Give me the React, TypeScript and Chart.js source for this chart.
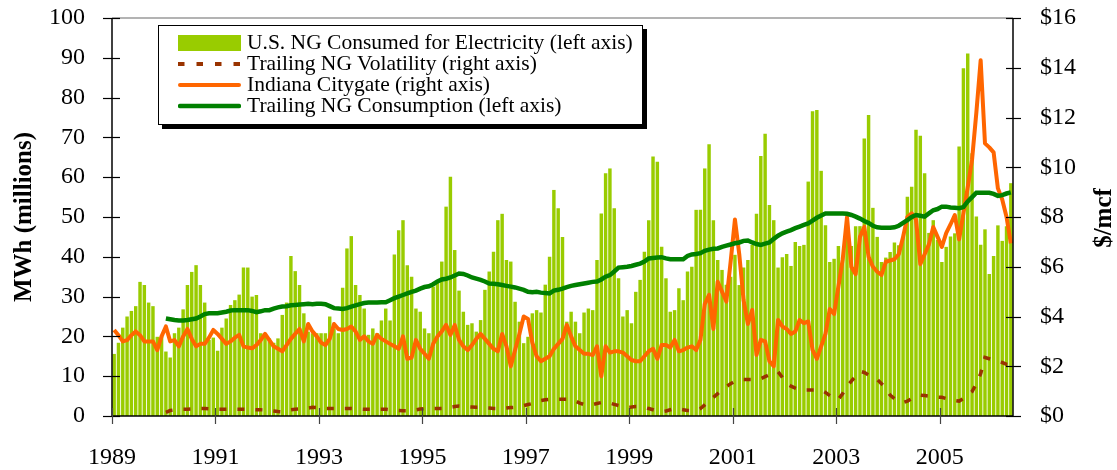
import React, { useEffect, useRef } from "react";
import { Chart, registerables } from "chart.js";

Chart.register(...registerables);

const START_YEAR = 1989;
const MONTH_COUNT = 209;
const TRAILING_START = 12;
const xTickYears = [1989, 1991, 1993, 1995, 1997, 1999, 2001, 2003, 2005];

const legendLabels = [
  "U.S. NG Consumed for Electricity (left axis)",
  "Trailing NG Volatility (right axis)",
  "Indiana Citygate (right axis)",
  "Trailing NG Consumption (left axis)",
];

// U.S. NG consumed for electricity, MWh (millions), monthly Jan 1989 - May 2006
const ngConsumed = [
  15.6, 18.4, 22.2, 25.0, 26.4, 27.6, 33.7, 32.9, 28.5, 27.6, 19.9, 20.0,
  16.2, 14.7, 20.8, 22.2, 26.8, 32.9, 36.2, 37.9, 32.9, 28.5, 19.1, 19.7,
  16.4, 22.2, 24.5, 27.9, 29.1, 30.5, 37.3, 37.3, 30.0, 30.4, 20.8, 20.4,
  19.5, 18.4, 19.5, 25.4, 28.5, 40.2, 36.4, 32.9, 25.8, 21.2, 20.8, 20.8,
  20.8, 20.8, 25.0, 22.0, 20.8, 32.2, 42.1, 45.2, 32.9, 30.4, 27.0, 20.4,
  22.0, 20.8, 24.0, 27.0, 24.0, 40.6, 46.7, 49.2, 37.9, 35.0, 27.0, 26.2,
  22.0, 20.8, 32.5, 34.2, 38.8, 52.6, 60.1, 41.7, 31.5, 26.2, 22.9, 23.3,
  21.2, 24.1, 31.7, 36.3, 41.3, 49.2, 50.8, 39.2, 38.8, 28.7, 23.7, 18.3,
  19.9, 25.8, 26.6, 26.0, 33.0, 40.0, 56.8, 52.2, 45.0, 23.7, 26.2, 23.7,
  20.8, 26.0, 27.0, 26.6, 39.2, 50.9, 61.0, 62.2, 52.2, 34.6, 25.0, 26.6,
  23.3, 31.2, 34.2, 41.3, 49.2, 65.2, 63.9, 42.5, 34.6, 26.2, 26.6, 32.1,
  29.1, 36.3, 37.5, 51.8, 51.8, 62.2, 68.3, 49.2, 39.2, 36.7, 33.0, 35.0,
  40.5, 32.9, 37.3, 39.2, 43.0, 50.8, 65.3, 70.9, 53.0, 49.2, 37.3, 39.9,
  40.7, 37.7, 43.7, 42.7, 43.0, 58.9, 76.6, 76.9, 61.6, 47.9, 38.7, 39.5,
  42.7, 40.0, 49.9, 42.7, 47.7, 47.7, 69.7, 75.6, 52.3, 45.0, 38.7, 39.8,
  41.2, 43.6, 42.9, 45.2, 55.1, 57.6, 71.9, 70.4, 61.0, 46.0, 49.2, 44.2,
  38.7, 42.5, 45.1, 45.9, 67.7, 87.4, 91.1, 66.0, 50.1, 43.0, 46.9, 35.7,
  40.2, 47.9, 44.0, 47.7, 58.5,
];

// Indiana citygate price, $/mcf, monthly Jan 1989 - May 2006
const citygate = [
  3.46, 3.25, 3.0, 3.05, 3.25, 3.4, 3.25, 3.0, 3.0, 3.0, 2.65, 3.2,
  3.6, 3.0, 3.05, 2.8, 3.2, 3.5, 3.1, 2.8, 2.9, 2.9, 3.15, 3.46,
  3.3, 3.1, 2.9, 3.0, 3.15, 3.26, 2.8, 2.75, 2.72, 2.85, 3.05, 3.3,
  3.05, 2.8, 2.7, 2.6, 2.85, 3.1, 3.3, 3.5, 3.0, 3.7, 3.4, 3.2,
  2.95, 2.85, 3.1, 3.7, 3.5, 3.46, 3.5, 3.6, 3.4, 3.06, 3.2, 3.0,
  2.9, 3.26, 3.1, 3.0, 2.9, 2.8, 2.7, 3.2, 2.3, 2.35, 3.06, 2.7,
  2.5, 2.3, 2.9, 3.2, 3.4, 3.66, 3.26, 3.66, 3.06, 2.8, 2.65, 2.85,
  3.1, 3.3, 3.1, 2.9, 2.7, 2.6, 3.3, 2.8, 2.0, 2.65, 3.3, 4.0,
  3.9, 2.95, 2.4, 2.2, 2.3, 2.4, 2.7, 2.9, 3.1, 3.66, 3.2, 2.8,
  2.65, 2.5, 2.5, 2.45, 2.8, 1.6, 2.8, 2.55, 2.6, 2.6, 2.55, 2.4,
  2.25, 2.2, 2.2, 2.4, 2.6, 2.7, 2.3, 2.85, 2.85, 2.75, 3.06, 2.6,
  2.65, 2.75, 2.8, 2.65, 3.06, 4.5, 4.87, 3.5, 5.4, 5.0, 4.6, 6.2,
  7.9, 6.5, 4.66, 3.7, 4.26, 2.45, 3.06, 3.0, 2.2, 2.0, 3.86, 3.6,
  3.5, 3.3, 3.4, 3.86, 3.73, 3.8, 2.66, 2.3, 2.8, 3.3, 4.3, 4.1,
  5.2, 6.3, 8.0, 6.0, 5.7, 7.2, 7.6, 6.4, 6.0, 5.8, 5.67, 6.2,
  6.25, 6.3, 6.5, 7.2, 8.0, 8.15, 7.9, 6.1, 6.5, 6.9, 7.6, 7.2,
  6.8, 7.35, 7.7, 8.08, 7.1, 8.15, 9.2, 10.3, 12.2, 14.3, 10.96, 10.8,
  10.6, 9.15, 8.7, 8.0, 6.94,
];

// Trailing NG consumption, MWh (millions), monthly Jan 1990 - May 2006
const trailingConsumption = [
  24.5, 24.3, 24.1, 24.0, 24.0, 24.1, 24.3, 24.5, 25.0, 25.6, 25.8, 25.8,
  25.8, 26.0, 26.2, 26.5, 26.6, 26.6, 26.6, 26.6, 26.4, 26.1, 26.3, 26.6,
  26.6, 27.0, 27.3, 27.5, 27.6, 27.8, 27.9, 28.0, 28.1, 28.2, 28.1, 28.2,
  28.2, 28.1, 27.6, 27.1, 27.0, 26.9, 27.1, 27.5, 27.8, 28.1, 28.4, 28.5,
  28.5, 28.5, 28.6, 28.6, 29.1, 29.6, 30.0, 30.4, 30.8, 31.2, 31.5, 32.0,
  32.4, 32.6, 33.1, 33.8, 34.3, 34.5, 34.8, 35.3, 35.8, 35.7, 35.3, 34.8,
  34.5, 34.2, 33.8, 33.3, 33.2, 33.1, 32.9, 32.7, 32.5, 32.3, 32.0, 31.7,
  31.2, 31.1, 31.2, 31.0, 30.9, 30.8, 31.5, 31.7, 32.0, 32.4, 32.7, 32.9,
  33.1, 33.3, 33.5, 33.7, 33.8, 34.3, 35.0, 35.4, 36.3, 37.3, 37.4, 37.5,
  37.7, 38.0, 38.3, 38.8, 39.6, 39.7, 39.8, 39.9, 39.6, 39.4, 39.4, 39.4,
  39.4, 40.2, 40.6, 40.7, 40.9, 41.5, 41.8, 42.0, 42.1, 42.5, 42.8, 43.1,
  43.4, 43.6, 44.0, 44.1, 43.6, 43.2, 43.0, 43.3, 43.6, 44.5, 45.3, 45.9,
  46.3, 46.7, 47.2, 47.6, 48.0, 48.4, 49.1, 49.8, 50.4, 50.9, 50.9, 50.9,
  50.9, 50.9, 50.8, 50.5, 50.1, 49.6, 49.0, 48.5, 47.8, 47.4, 47.3, 47.3,
  47.3, 47.4, 47.8, 48.5, 49.2, 50.0, 50.5, 50.3, 50.1, 50.9, 51.7, 52.0,
  52.6, 52.6, 52.4, 52.3, 52.2, 52.5, 53.9, 55.0, 56.1, 56.1, 56.1, 56.1,
  55.8, 55.3, 55.5, 55.9, 56.2,
];

// Trailing NG volatility, $/mcf, monthly Jan 1990 - May 2006
const trailingVolatility = [
  0.15, 0.22, 0.25, 0.27, 0.27, 0.27, 0.28, 0.29, 0.3, 0.3, 0.29, 0.28,
  0.27, 0.27, 0.27, 0.27, 0.27, 0.27, 0.27, 0.27, 0.26, 0.25, 0.25, 0.24,
  0.22, 0.2, 0.18, 0.17, 0.2, 0.25, 0.27, 0.28, 0.3, 0.32, 0.35, 0.34,
  0.32, 0.3, 0.3, 0.3, 0.3, 0.3, 0.3, 0.3, 0.29, 0.28, 0.27, 0.27,
  0.27, 0.27, 0.27, 0.27, 0.25, 0.23, 0.22, 0.21, 0.21, 0.22, 0.25, 0.28,
  0.3, 0.3, 0.3, 0.3, 0.3, 0.32, 0.35, 0.38, 0.4, 0.39, 0.37, 0.36,
  0.35, 0.35, 0.33, 0.32, 0.3, 0.3, 0.3, 0.32, 0.34, 0.35, 0.38, 0.42,
  0.46, 0.5, 0.58, 0.62, 0.65, 0.67, 0.67, 0.67, 0.67, 0.67, 0.67, 0.6,
  0.52, 0.46, 0.44, 0.46, 0.5, 0.54, 0.54, 0.52, 0.47, 0.42, 0.37, 0.35,
  0.36, 0.38, 0.38, 0.35, 0.3, 0.25, 0.2, 0.17, 0.2, 0.25, 0.3, 0.28,
  0.25, 0.22, 0.21, 0.22, 0.3, 0.45, 0.6, 0.75, 0.9, 1.05, 1.18, 1.3,
  1.4, 1.45, 1.47, 1.47, 1.47, 1.47, 1.5, 1.58, 1.66, 1.74, 1.78, 1.55,
  1.3, 1.2, 1.12, 1.05, 1.05, 1.05, 1.05, 1.05, 1.05, 0.95, 0.82, 0.7,
  0.67, 0.9, 1.2, 1.4, 1.6, 1.8, 1.75, 1.65, 1.55, 1.47, 1.3, 1.1,
  0.84, 0.7, 0.6, 0.54, 0.6, 0.7, 0.78, 0.84, 0.82, 0.8, 0.78, 0.76,
  0.75, 0.7, 0.65, 0.62, 0.6, 0.7, 0.85, 0.98, 1.3, 1.7, 2.35, 2.3,
  2.25, 2.2, 2.15, 2.08, 2.05,
];

const BAR_COLOR = "#99CC00";
const VOL_COLOR = "#993300";
const CITY_COLOR = "#FF6600";
const TRAIL_COLOR = "#008000";
const SERIF = '"Liberation Serif", "Times New Roman", serif';

const monthX = (i: number) => START_YEAR + (i + 0.5) / 12;
const toPoints = (vals: number[], offset = 0) =>
  vals.map((v, k) => ({ x: monthX(k + offset), y: v }));

const decorPlugin = {
  id: "decor",
  afterDatasetsDraw(chart: any) {
    const { ctx, chartArea: a, scales } = chart;
    const seg = (x1: number, y1: number, x2: number, y2: number) => {
      ctx.beginPath();
      ctx.moveTo(x1, y1);
      ctx.lineTo(x2, y2);
      ctx.stroke();
    };
    ctx.save();
    ctx.lineCap = "butt";
    ctx.strokeStyle = "#9a9a9a";
    ctx.lineWidth = 1.5;
    seg(a.left, a.top, a.right, a.top);
    ctx.strokeStyle = "#000";
    ctx.lineWidth = 1.5;
    seg(a.left, a.top, a.left, a.bottom);
    seg(a.right, a.top, a.right, a.bottom);
    seg(a.left, a.bottom, a.right, a.bottom);
    ctx.lineWidth = 1.2;
    scales.y.ticks.forEach((t: any) => {
      const y = Math.round(scales.y.getPixelForValue(t.value)) + 0.5;
      seg(a.left - 9, y, a.left + 8, y);
    });
    scales.y1.ticks.forEach((t: any) => {
      const y = Math.round(scales.y1.getPixelForValue(t.value)) + 0.5;
      seg(a.right - 7, y, a.right + 8, y);
    });
    ctx.strokeStyle = "#444";
    scales.x.ticks.forEach((t: any) => {
      const x = Math.round(scales.x.getPixelForValue(t.value)) + 0.5;
      seg(x, a.bottom - 8, x, a.bottom + 8);
    });
    ctx.fillStyle = "#000";
    ctx.font = `bold 25px ${SERIF}`;
    ctx.textAlign = "center";
    ctx.textBaseline = "middle";
    ctx.save();
    ctx.translate(25, 217);
    ctx.rotate(-Math.PI / 2);
    ctx.fillText("MWh (millions)", 0, 0);
    ctx.restore();
    ctx.save();
    ctx.translate(1105, 218);
    ctx.rotate(-Math.PI / 2);
    ctx.fillText("$/mcf", 0, 0);
    ctx.restore();
    ctx.restore();
  },
};

const fitVertical = (width: number) => (s: any) => {
  s.width = width;
  s.paddingTop = 0;
  s.paddingBottom = 0;
};

export default function App() {
  const canvasRef = useRef<HTMLCanvasElement | null>(null);

  useEffect(() => {
    if (!canvasRef.current) return;
    const tickFont = { family: SERIF, size: 24 };
    const chart = new Chart(canvasRef.current, {
      type: "bar",
      data: {
        datasets: [
          {
            type: "line",
            label: legendLabels[3],
            data: toPoints(trailingConsumption, TRAILING_START),
            yAxisID: "y",
            borderColor: TRAIL_COLOR,
            borderWidth: 4.5,
            pointRadius: 0,
            tension: 0,
            order: 1,
          },
          {
            type: "line",
            label: legendLabels[2],
            data: toPoints(citygate),
            yAxisID: "y1",
            borderColor: CITY_COLOR,
            borderWidth: 4,
            borderJoinStyle: "round",
            pointRadius: 0,
            tension: 0,
            order: 2,
          },
          {
            type: "line",
            label: legendLabels[1],
            data: toPoints(trailingVolatility, TRAILING_START),
            yAxisID: "y1",
            borderColor: VOL_COLOR,
            borderWidth: 3.5,
            borderDash: [7, 11],
            pointRadius: 0,
            tension: 0,
            order: 3,
          },
          {
            type: "bar",
            label: legendLabels[0],
            data: toPoints(ngConsumed),
            yAxisID: "y",
            backgroundColor: BAR_COLOR,
            borderWidth: 0,
            barPercentage: 0.8,
            categoryPercentage: 1,
            order: 4,
          },
        ],
      } as any,
      options: {
        responsive: false,
        animation: false,
        devicePixelRatio: 1,
        layout: { padding: { top: 18, left: 0, right: 0, bottom: 0 } },
        plugins: {
          legend: { display: false },
          tooltip: { enabled: false },
          title: { display: false },
        },
        scales: {
          x: {
            type: "linear",
            offset: false,
            min: START_YEAR,
            max: START_YEAR + MONTH_COUNT / 12,
            grid: { display: false, offset: false },
            border: { display: false },
            afterBuildTicks: (s: any) => {
              s.ticks = xTickYears.map((v) => ({ value: v }));
            },
            afterFit: (s: any) => {
              s.height = 54;
            },
            ticks: {
              autoSkip: false,
              maxRotation: 0,
              padding: 19,
              color: "#000",
              font: tickFont,
              callback: (v: any) => String(v),
            },
          },
          y: {
            position: "left",
            min: 0,
            max: 100,
            grid: { display: false },
            border: { display: false },
            afterFit: fitVertical(112),
            ticks: { stepSize: 10, padding: 19, color: "#000", font: tickFont },
          },
          y1: {
            position: "right",
            min: 0,
            max: 16,
            grid: { display: false },
            border: { display: false },
            afterFit: fitVertical(104),
            ticks: {
              stepSize: 2,
              padding: 19,
              color: "#000",
              font: tickFont,
              callback: (v: any) => "$" + v,
            },
          },
        },
      } as any,
      plugins: [decorPlugin],
    });
    return () => chart.destroy();
  }, []);

  const row: React.CSSProperties = {
    display: "flex",
    alignItems: "center",
    height: 21,
    whiteSpace: "nowrap",
  };
  const sw: React.CSSProperties = { width: 63, marginLeft: 19, marginRight: 6, flex: "0 0 63px" };

  return (
    <div style={{ position: "fixed", left: 0, top: 0, width: 1117, height: 470, background: "#fff" }}>
      <canvas ref={canvasRef} width={1117} height={470} style={{ display: "block" }} />
      <div
        style={{
          position: "absolute",
          left: 158,
          top: 25,
          width: 485,
          height: 100,
          boxSizing: "border-box",
          border: "1px solid #000",
          boxShadow: "4px 4px 0 #000",
          background: "#fff",
          fontFamily: SERIF,
          fontSize: 21.5,
          lineHeight: "21px",
          color: "#000",
          paddingTop: 6,
        }}
      >
        <div style={row}>
          <div style={{ ...sw, height: 16, background: BAR_COLOR }} />
          <span>{legendLabels[0]}</span>
        </div>
        <div style={row}>
          <svg style={sw} width={63} height={6}>
            <line x1={0} y1={3} x2={63} y2={3} stroke={VOL_COLOR} strokeWidth={4} strokeDasharray="6.5 12" />
          </svg>
          <span>{legendLabels[1]}</span>
        </div>
        <div style={row}>
          <svg style={sw} width={63} height={6}>
            <line x1={2} y1={3} x2={61} y2={3} stroke={CITY_COLOR} strokeWidth={4} strokeLinecap="round" />
          </svg>
          <span>{legendLabels[2]}</span>
        </div>
        <div style={row}>
          <svg style={sw} width={63} height={6}>
            <line x1={2} y1={3} x2={61} y2={3} stroke={TRAIL_COLOR} strokeWidth={4.5} strokeLinecap="round" />
          </svg>
          <span>{legendLabels[3]}</span>
        </div>
      </div>
    </div>
  );
}
